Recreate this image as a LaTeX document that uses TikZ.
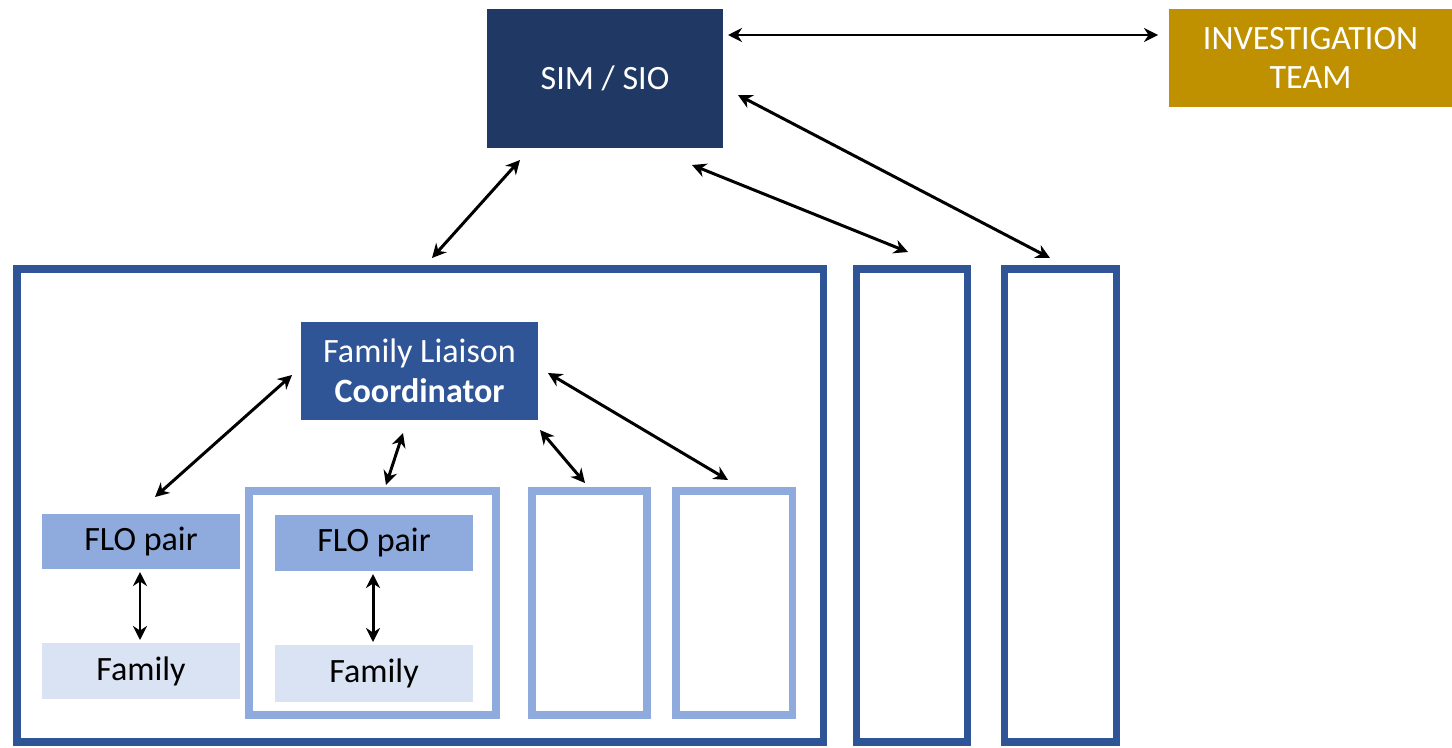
\documentclass[tikz,border=0pt]{standalone}
\usepackage{fontspec}
\setmainfont{Carlito}
\usetikzlibrary{arrows.meta}

\newlength\px
\setlength\px{0.02cm}
\definecolor{simblue}{RGB}{32,56,100}
\definecolor{flcblue}{RGB}{47,85,151}
\definecolor{flolight}{RGB}{143,170,220}
\definecolor{famlight}{RGB}{218,227,243}
\definecolor{invgold}{RGB}{191,144,0}

\tikzset{
  every node/.style={font=\fontsize{19.4}{22.5}\selectfont, inner sep=0pt, outer sep=0pt},
  fillbox/.style={rectangle, anchor=north west, align=center},
  frame/.style={rectangle, anchor=north west, draw=flcblue, line width=4pt},
  subframe/.style={rectangle, anchor=north west, draw=flolight, line width=4pt},
  link/.style={{Stealth[length=8pt,width=8pt]}-{Stealth[length=8pt,width=8pt]}, line width=1.7pt}
}

\begin{document}
\begin{tikzpicture}[x=\px, y=-\px]
  \useasboundingbox (0,0) rectangle (1452,747);

  % Top
  \node[fillbox, fill=simblue, text=white, minimum width=236\px, minimum height=139\px] (sim) at (487,9) {SIM / SIO};
  \node[fillbox, fill=invgold, text=white, minimum width=283\px, minimum height=98\px] (inv) at (1169,9) {INVESTIGATION\\TEAM};

  % Units
  \node[frame, minimum width=806\px, minimum height=473\px] (unit) at (17,269) {};
  \node[frame, minimum width=111\px, minimum height=473\px] (unitb) at (856,269) {};
  \node[frame, minimum width=112\px, minimum height=473\px] (unitc) at (1004,269) {};

  % Coordinator and teams
  \node[fillbox, fill=flcblue, text=white, minimum width=237\px, minimum height=98\px] (flc) at (301,322) {Family Liaison\\\textbf{Coordinator}};
  \node[fillbox, fill=flolight, minimum width=198\px, minimum height=55\px] (floa) at (42,514) {FLO pair};
  \node[fillbox, fill=famlight, minimum width=198\px, minimum height=56\px] (fama) at (42,643) {Family};
  \node[subframe, minimum width=247\px, minimum height=224\px] (teamb) at (249,491) {};
  \node[fillbox, fill=flolight, minimum width=198\px, minimum height=56\px] (flob) at (275,515) {FLO pair};
  \node[fillbox, fill=famlight, minimum width=198\px, minimum height=57\px] (famb) at (275,645) {Family};
  \node[subframe, minimum width=115\px, minimum height=224\px] (teamc) at (532,491) {};
  \node[subframe, minimum width=116\px, minimum height=224\px] (teamd) at (676,491) {};

  % Links
  \begin{scope}[link]
    \draw ([shift={(5,26)}]sim.north east) -- ([shift={(-11,26)}]inv.north west);
    \draw ([shift={(15,16.5)}]sim.east) -- ([shift={(-10,-11)}]unitc.north);
    \draw ([shift={(-31,17)}]sim.south east) -- ([shift={(-3.5,-17)}]unitb.north);
    \draw ([shift={(-85,12)}]sim.south) -- ([shift={(12,-11)}]unit.north);
    \draw ([shift={(-9,4)}]flc.west) -- ([shift={(14,-17)}]floa.north);
    \draw ([shift={(-16.5,13)}]flc.south) -- ([shift={(13.5,-6)}]teamb.north);
    \draw ([shift={(2,10)}]flc.south east) -- ([shift={(-4.5,-8)}]teamc.north);
    \draw ([shift={(10,2)}]flc.east) -- ([shift={(-6,-11)}]teamd.north);
    \draw ([shift={(-1,3)}]floa.south) -- ([shift={(-1,-3)}]fama.north);
    \draw ([shift={(-1,3)}]flob.south) -- ([shift={(-1,-3)}]famb.north);
  \end{scope}
\end{tikzpicture}
\end{document}
